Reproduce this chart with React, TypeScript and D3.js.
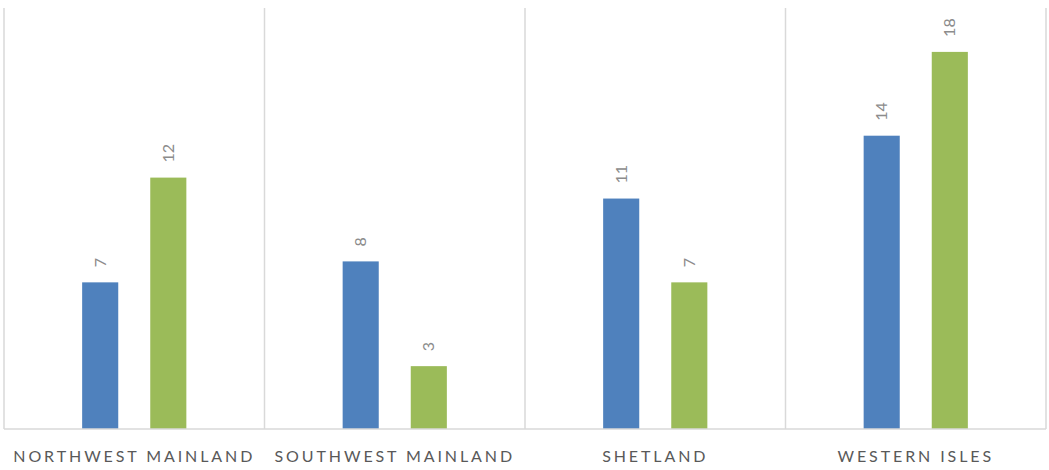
import { useEffect, useRef } from "react"
import * as d3 from "d3"

const categories = ["NORTHWEST MAINLAND", "SOUTHWEST MAINLAND", "SHETLAND", "WESTERN ISLES"]
const seriesNames = ["Series 1", "Series 2"]
const series1 = [7, 8, 11, 14]
const series2 = [12, 3, 7, 18]
const colors = ["#4F81BD", "#9BBB59"]

export default function App() {
  const svgRef = useRef<SVGSVGElement>(null)

  useEffect(() => {
    if (!svgRef.current) return
    const svg = d3.select(svgRef.current)
    svg.selectAll("*").remove()

    const width = 1049
    const height = 470
    const margin = { top: 10, right: 3, bottom: 41, left: 4 }
    const innerWidth = width - margin.left - margin.right
    const innerHeight = height - margin.top - margin.bottom

    const g = svg.append("g").attr("transform", `translate(${margin.left},${margin.top})`)

    const x = d3.scaleBand().domain(categories).range([0, innerWidth]).padding(0)
    const x1 = d3
      .scaleBand()
      .domain(seriesNames)
      .range([x.bandwidth() * 0.3, x.bandwidth() * 0.7])
      .paddingInner(0.47)
    const y = d3.scaleLinear().domain([0, 20]).range([innerHeight, 0])

    // separadores verticales
    const bounds = [0, ...categories.map((c) => (x(c) || 0) + x.bandwidth())]
    g.selectAll(".sep")
      .data(bounds)
      .enter()
      .append("line")
      .attr("x1", (d) => d)
      .attr("x2", (d) => d)
      .attr("y1", -2)
      .attr("y2", innerHeight)
      .attr("stroke", "#D9D9D9")
      .attr("stroke-width", 1.5)

    const data = [series1, series2]
    data.forEach((vals, si) => {
      const grp = g.append("g")
      grp.selectAll("rect")
        .data(vals)
        .enter()
        .append("rect")
        .attr("x", (_, i) => (x(categories[i]) || 0) + (x1(seriesNames[si]) || 0))
        .attr("y", (d) => y(d))
        .attr("width", x1.bandwidth())
        .attr("height", (d) => innerHeight - y(d))
        .attr("fill", colors[si])

      grp.selectAll("text")
        .data(vals)
        .enter()
        .append("text")
        .attr("transform", (d, i) => {
          const cx = (x(categories[i]) || 0) + (x1(seriesNames[si]) || 0) + x1.bandwidth() / 2 + 5.5
          return `translate(${cx},${y(d) - 15}) rotate(-90)`
        })
        .attr("text-anchor", "start")
        .style("font-family", "Lato, 'Open Sans', sans-serif")
        .style("font-size", "16px")
        .attr("fill", "#8C8C8C")
        .text((d) => d)
    })

    // línea base
    g.append("line")
      .attr("x1", 0)
      .attr("x2", innerWidth)
      .attr("y1", innerHeight)
      .attr("y2", innerHeight)
      .attr("stroke", "#D9D9D9")
      .attr("stroke-width", 1.5)

    // etiquetas de categoría
    g.selectAll(".cat")
      .data(categories)
      .enter()
      .append("text")
      .attr("x", (d) => (x(d) || 0) + x.bandwidth() / 2)
      .attr("y", innerHeight + 33)
      .attr("text-anchor", "middle")
      .style("font-family", "Lato, 'Open Sans', sans-serif")
      .style("font-size", "16px")
      .style("letter-spacing", "2.9px")
      .attr("fill", "#595959")
      .text((d) => d)
  }, [])

  return (
    <svg
      ref={svgRef}
      width={1049}
      height={470}
      style={{ position: "absolute", left: 0, top: 0, background: "#fff" }}
    />
  )
}
